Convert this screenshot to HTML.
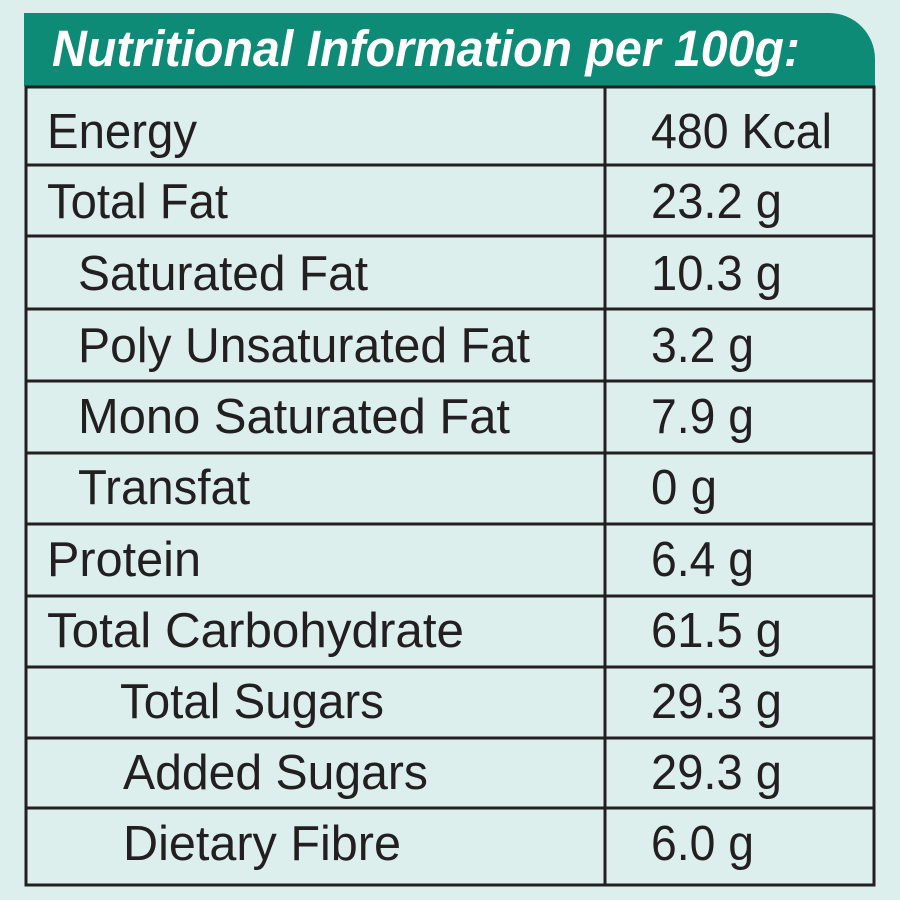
<!DOCTYPE html>
<html><head><meta charset="utf-8"><style>
html,body{margin:0;padding:0;background:#dcefec;}
svg{display:block}
text{font-family:"Liberation Sans",sans-serif;fill:#231f20;font-size:49px}
</style></head><body>
<svg width="900" height="900" viewBox="0 0 900 900" xmlns="http://www.w3.org/2000/svg">
<rect width="900" height="900" fill="#dcefec"/>
<path d="M24 13 H829 A46 46 0 0 1 875 59 V86 H24 Z" fill="#0e8b76"/>
<text x="52" y="66" textLength="748" lengthAdjust="spacingAndGlyphs" style="fill:#fff;font-weight:bold;font-style:italic;font-size:51px">Nutritional Information per 100g:</text>
<g stroke="#231f20" stroke-width="3" fill="none">
<rect x="26" y="87" width="848" height="798"/>
<line x1="605" y1="87" x2="605" y2="885"/>
<line x1="26" y1="165" x2="874" y2="165"/>
<line x1="26" y1="236" x2="874" y2="236"/>
<line x1="26" y1="309" x2="874" y2="309"/>
<line x1="26" y1="381" x2="874" y2="381"/>
<line x1="26" y1="453" x2="874" y2="453"/>
<line x1="26" y1="524" x2="874" y2="524"/>
<line x1="26" y1="596" x2="874" y2="596"/>
<line x1="26" y1="667" x2="874" y2="667"/>
<line x1="26" y1="738" x2="874" y2="738"/>
<line x1="26" y1="808" x2="874" y2="808"/>
</g>
<g>
<text x="47" y="148" textLength="150" lengthAdjust="spacingAndGlyphs">Energy</text>
<text x="47" y="218" textLength="181" lengthAdjust="spacingAndGlyphs">Total Fat</text>
<text x="78" y="290" textLength="290" lengthAdjust="spacingAndGlyphs">Saturated Fat</text>
<text x="78" y="362" textLength="452" lengthAdjust="spacingAndGlyphs">Poly Unsaturated Fat</text>
<text x="78" y="433" textLength="432" lengthAdjust="spacingAndGlyphs">Mono Saturated Fat</text>
<text x="78" y="504" textLength="172" lengthAdjust="spacingAndGlyphs">Transfat</text>
<text x="47" y="576" textLength="154" lengthAdjust="spacingAndGlyphs">Protein</text>
<text x="47" y="647" textLength="417" lengthAdjust="spacingAndGlyphs">Total Carbohydrate</text>
<text x="120" y="718" textLength="264" lengthAdjust="spacingAndGlyphs">Total Sugars</text>
<text x="123" y="789" textLength="305" lengthAdjust="spacingAndGlyphs">Added Sugars</text>
<text x="123" y="860" textLength="278" lengthAdjust="spacingAndGlyphs">Dietary Fibre</text>
<text x="651" y="148" textLength="181" lengthAdjust="spacingAndGlyphs">480 Kcal</text>
<text x="651" y="218" textLength="131" lengthAdjust="spacingAndGlyphs">23.2 g</text>
<text x="651" y="290" textLength="131" lengthAdjust="spacingAndGlyphs">10.3 g</text>
<text x="651" y="362" textLength="103" lengthAdjust="spacingAndGlyphs">3.2 g</text>
<text x="651" y="433" textLength="103" lengthAdjust="spacingAndGlyphs">7.9 g</text>
<text x="651" y="504" textLength="66" lengthAdjust="spacingAndGlyphs">0 g</text>
<text x="651" y="576" textLength="103" lengthAdjust="spacingAndGlyphs">6.4 g</text>
<text x="651" y="647" textLength="131" lengthAdjust="spacingAndGlyphs">61.5 g</text>
<text x="651" y="718" textLength="131" lengthAdjust="spacingAndGlyphs">29.3 g</text>
<text x="651" y="789" textLength="131" lengthAdjust="spacingAndGlyphs">29.3 g</text>
<text x="651" y="860" textLength="103" lengthAdjust="spacingAndGlyphs">6.0 g</text>
</g>
</svg>
</body></html>
